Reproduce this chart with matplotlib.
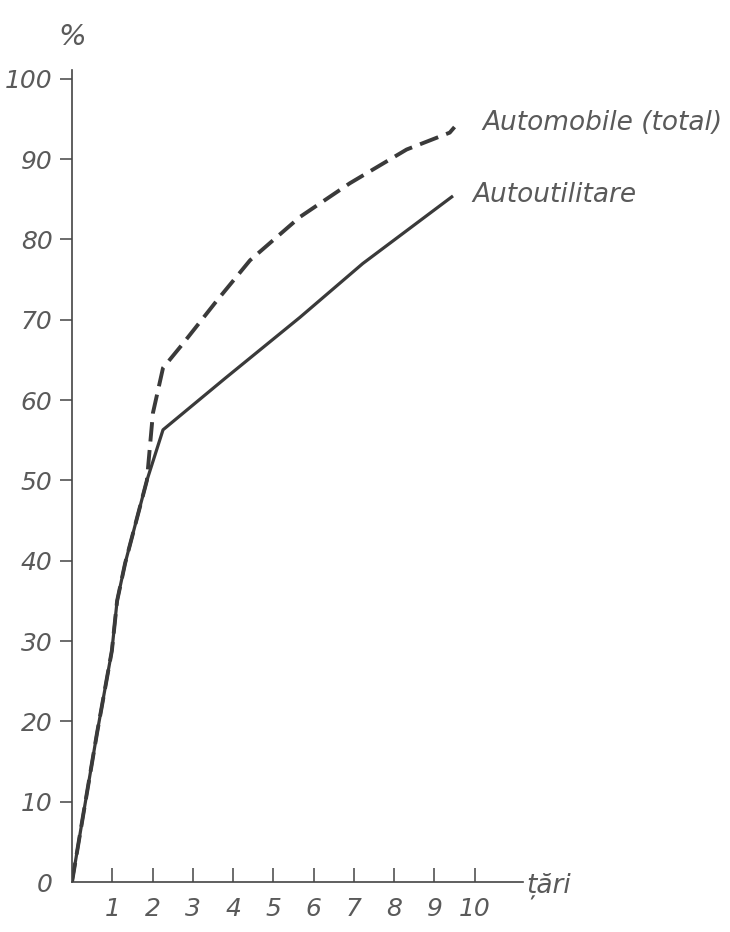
import matplotlib
matplotlib.use("Agg")
import matplotlib.pyplot as plt

plt.rcParams.update({
    "font.family": "DejaVu Sans", "font.style": "oblique", "font.weight": "light",
    "font.size": 19, "text.color": "#5a5a5a",
    "xtick.color": "#444444", "ytick.color": "#444444",
    "xtick.labelcolor": "#5a5a5a", "ytick.labelcolor": "#5a5a5a",
    "xtick.labelsize": 18, "ytick.labelsize": 18,
})

# cumulative share (%) vs. number of countries
tari_total = [0, 0.27, 0.62, 0.99, 1.12, 1.32, 1.86, 2.01, 2.26, 2.75, 3.6, 4.42,
              5.66, 6.9, 8.31, 9.38, 9.5]
auto_total = [0, 8.1, 18.5, 28.8, 35, 39.7, 50, 58.4, 64, 67, 72.4, 77.4,
              82.8, 87, 91.2, 93.3, 94]
tari_util = [0, 0.27, 0.62, 0.99, 1.12, 1.32, 1.86, 2.26, 3.8, 5.66, 7.22, 9.43]
auto_util = [0, 8.1, 18.5, 28.8, 35, 39.7, 50, 56.3, 62.7, 70.3, 77, 85.3]

x_ticks = list(range(1, 11))
y_ticks = list(range(0, 101, 10))
LINE = "#3a3a3a"

fig = plt.figure(figsize=(7.3, 9.32), dpi=100)
ax = fig.add_axes([72 / 730, 50 / 932, 451 / 730, 812 / 932])

ax.plot(tari_util, auto_util, color=LINE, lw=2.3, solid_joinstyle="round")
ax.plot(tari_total, auto_total, color=LINE, lw=2.8, dashes=(5, 2.2))

ax.set_xlim(0, 11.2)
ax.set_ylim(0, 101.1)
for side in ("top", "right"):
    ax.spines[side].set_visible(False)
for side in ("left", "bottom"):
    ax.spines[side].set_color("#444444")
    ax.spines[side].set_linewidth(1.2)

ax.set_xticks(x_ticks)
ax.set_xticklabels([str(t) for t in x_ticks])
ax.set_yticks(y_ticks)
ax.set_yticklabels([str(t) for t in y_ticks])
ax.tick_params(axis="x", direction="in", length=10, width=1.1, pad=11)
ax.tick_params(axis="y", direction="out", length=9, width=1.1, pad=5)
ax.yaxis.get_major_ticks()[0].tick1line.set_visible(False)

ax.text(10.2, 94.5, "Automobile (total)", va="center", ha="left", clip_on=False)
ax.text(9.95, 85.5, "Autoutilitare", va="center", ha="left", clip_on=False)
ax.text(11.29, -0.5, "țări", va="center", ha="left", clip_on=False)
fig.text(72 / 730, 1 - 37 / 932, "%", ha="center", va="center", fontsize=21)

fig.savefig("out.png", dpi=100)
